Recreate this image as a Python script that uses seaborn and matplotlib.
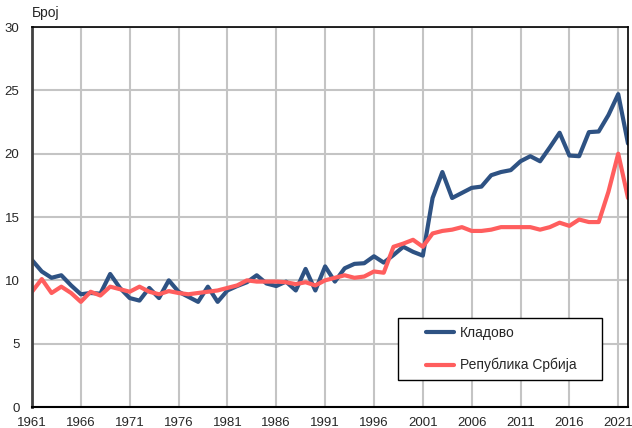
import numpy as np
import pandas as pd
import matplotlib
matplotlib.use("Agg")
import matplotlib.pyplot as plt
from matplotlib.patches import Rectangle
import seaborn as sns

# Подаци
godine = list(range(1961, 2023))
kladovo = [11.6, 10.7, 10.2, 10.4, 9.6, 8.9, 9.0, 8.95, 10.5, 9.4,
           8.6, 8.4, 9.4, 8.6, 10.0, 9.1, 8.7, 8.3, 9.5, 8.3,
           9.2, 9.55, 9.85, 10.4, 9.75, 9.55, 9.9, 9.2, 10.9, 9.2,
           11.1, 9.9, 10.95, 11.3, 11.35, 11.9, 11.4, 12.0, 12.65, 12.25,
           11.95, 16.5, 18.55, 16.5, 16.9, 17.3, 17.4, 18.3, 18.55, 18.7,
           19.4, 19.8, 19.4, 20.5, 21.65, 19.85, 19.8, 21.7, 21.75, 23.05,
           24.7, 20.8]
srbija = [9.1, 10.1, 9.0, 9.5, 9.0, 8.3, 9.1, 8.8, 9.5, 9.3,
          9.1, 9.5, 9.1, 8.9, 9.15, 9.0, 8.9, 9.0, 9.1, 9.2,
          9.4, 9.6, 10.0, 9.9, 9.9, 9.9, 9.85, 9.7, 9.85, 9.6,
          10.0, 10.2, 10.4, 10.2, 10.3, 10.7, 10.6, 12.65, 12.9, 13.2,
          12.65, 13.7, 13.9, 14.0, 14.2, 13.9, 13.9, 14.0, 14.2, 14.2,
          14.2, 14.2, 14.0, 14.2, 14.55, 14.3, 14.8, 14.6, 14.6, 17.0,
          20.0, 16.5]
serije = ["Кладово", "Република Србија"]
boje = ["#2E5283", "#FF5E5E"]

df = pd.DataFrame({
    "Година": godine * 2,
    "Број": kladovo + srbija,
    "Подручје": [serije[0]] * len(godine) + [serije[1]] * len(godine),
})

sns.set_style("white")
plt.rcParams["font.family"] = ["Liberation Sans", "DejaVu Sans"]

W, H = 632, 428
fig = plt.figure(figsize=(W / 100, H / 100), dpi=100)
ax = fig.add_axes([32 / W, 21 / H, 596 / W, 380 / H])

sns.lineplot(data=df, x="Година", y="Број", hue="Подручје",
             palette=dict(zip(serije, boje)), linewidth=3, ax=ax,
             legend=True)

ax.set_xlim(1961, 2022)
ax.set_ylim(0, 30)
ax.set_xticks(range(1961, 2022, 5))
ax.set_yticks(range(0, 31, 5))
ax.tick_params(axis="both", labelsize=9.5, length=0)
ax.tick_params(axis="x", pad=7)
ax.tick_params(axis="y", pad=9)
ax.grid(True, color="#C4C4C4", linewidth=1.5)
ax.set_axisbelow(True)
ax.set_xlabel("")
ax.set_ylabel("")

for side in ["top", "bottom", "right"]:
    ax.spines[side].set_color("black")
    ax.spines[side].set_linewidth(1.2)
ax.spines["left"].set_color("#404040")
ax.spines["left"].set_linewidth(2)
ax.spines["bottom"].set_linewidth(1.5)

fig.text(32 / W, 1 - 13 / H, "Број", fontsize=10, ha="left", va="center")

# оквир легенде
okvir = Rectangle((398 / W, 1 - 380 / H), 204 / W, 62 / H,
                  transform=fig.transFigure, facecolor="white",
                  edgecolor="black", linewidth=1, zorder=4)
ax.add_patch(okvir)

leg = ax.legend(loc="upper left", bbox_to_anchor=(426 / W, 1 - 326 / H),
                bbox_transform=fig.transFigure, fontsize=10, frameon=False,
                handlelength=2.0, labelspacing=1.3, borderpad=0,
                handletextpad=0.45, borderaxespad=0)
leg.set_title(None)
leg.set_zorder(5)

fig.savefig("out.png", dpi=100)
